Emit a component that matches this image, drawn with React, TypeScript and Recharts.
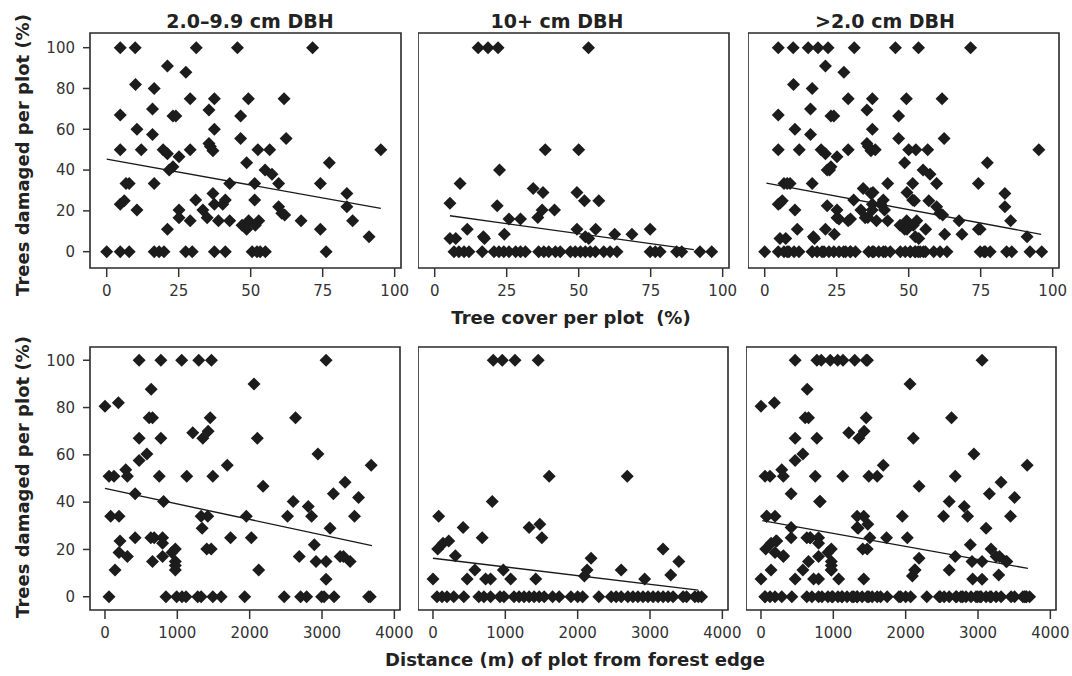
import React from 'react';
import { ScatterChart, Scatter, XAxis, YAxis, ReferenceLine, ReferenceArea } from 'recharts';

// [tree cover %, trees damaged %] — 2.0–9.9 cm DBH
const coverSmall: [number, number][] = [
  [4.7, 100], [9.9, 100], [31.1, 100], [45.4, 100], [71.5, 100],
  [21.1, 91], [27.5, 88], [10, 82], [16.5, 80],
  [29, 75], [37.4, 75], [49.2, 75], [61.6, 75], [15.9, 70],
  [4.7, 67], [23, 66.5], [24, 66.5], [35.5, 69.5], [46.5, 66.5],
  [10.5, 60], [37.4, 60], [15.9, 57.4], [46.5, 55.5], [62.3, 55.5],
  [35.5, 53], [36, 51.5],
  [4.7, 50], [12, 50], [19.6, 50], [29, 50], [36.9, 49.5], [52.5, 50], [56.6, 50], [95.2, 50],
  [21.1, 48], [25.1, 46.5], [48.6, 43.6], [77.3, 43.6], [23, 41.6], [21.7, 40], [55, 40], [57.4, 38],
  [6.7, 33.4], [7.8, 33.4], [16.5, 33.4], [42.7, 33.4], [51.4, 33.4], [59.7, 33.4], [74.2, 33.4],
  [36.9, 28.5], [83.4, 28.5],
  [6.1, 25], [30.9, 25.3], [41.2, 25.3], [51.4, 25.3],
  [4.7, 23.3], [37.4, 23.3], [40.3, 23.3], [59.7, 22], [83.4, 22],
  [10.5, 20.4], [25.1, 20.4], [33.4, 20.4], [60.8, 18.8], [61.8, 18],
  [25.1, 16.6], [34.9, 16.6],
  [29, 15.2], [38.8, 15.2], [42.7, 15.2], [49.3, 15.2], [52.8, 15.2], [67.5, 15.2], [85.4, 15.2],
  [47, 13], [51.6, 13], [21.1, 11], [48.6, 11], [74.2, 11], [91.1, 7.3],
  [0, 0], [4.7, 0], [7.8, 0], [16.5, 0], [18.2, 0], [19.9, 0], [27.4, 0], [29.7, 0],
  [37.4, 0], [41.2, 0], [50.5, 0], [52.2, 0], [53.3, 0], [55.1, 0], [76.2, 0],
];

// 10+ cm DBH
const coverBig: [number, number][] = [
  [15.1, 100], [18.5, 100], [22, 100], [53.4, 100],
  [38.4, 50], [50, 50], [22.5, 40], [8.8, 33.4], [34.2, 31], [37.6, 29], [49.4, 29],
  [52, 25], [57, 25], [5.3, 23.7], [21.7, 22.5], [37.3, 20.4], [41.6, 20.4], [35.8, 16.8],
  [25.8, 16], [29.8, 16], [11.3, 11], [49.4, 11], [55.9, 11], [74.8, 11],
  [24.2, 8.6], [62.5, 8.6], [68.5, 8.6], [16.9, 7.3], [52.3, 7.3],
  [5.3, 6.5], [7.3, 6.5], [17.3, 6.5], [53.5, 6.5],
  [6.7, 0], [8.4, 0], [10.2, 0], [11.9, 0], [16.5, 0], [20.6, 0], [22.3, 0], [24, 0],
  [25.8, 0], [28.1, 0], [29.8, 0], [31.5, 0], [36.1, 0], [37.9, 0], [39.6, 0], [41.9, 0],
  [43.6, 0], [47.1, 0], [48.8, 0], [50.6, 0], [52.3, 0], [54, 0], [55.8, 0], [58.7, 0],
  [60.9, 0], [63.3, 0], [74.8, 0], [76.6, 0], [78.3, 0], [84, 0], [85.8, 0], [92.1, 0], [96.2, 0],
];

// [distance m, trees damaged %] — 2.0–9.9 cm DBH
const distSmall: [number, number][] = [
  [472, 100], [773, 100], [1060, 100], [1296, 100], [1472, 100], [3056, 100],
  [2060, 90], [639, 87.7], [185, 82], [0, 80.6],
  [611, 75.7], [657, 75.7], [1454, 75.7], [2634, 75.7], [1426, 70], [1213, 69.3],
  [472, 67], [773, 67], [1352, 67], [2106, 67],
  [579, 60.4], [2944, 60.4], [472, 57.6], [1690, 55.6], [3680, 55.6], [287, 53.7],
  [56, 51], [125, 51], [310, 51], [750, 51], [1130, 51], [1491, 51],
  [3319, 48.4], [2185, 46.7], [417, 43.6], [3157, 43.6], [3505, 42], [810, 40.3], [2602, 40.3], [2810, 38.2],
  [79, 34], [194, 34], [1329, 34], [1421, 34], [1954, 34], [2523, 34], [2856, 34], [3449, 34],
  [1343, 29], [3111, 29],
  [417, 25], [634, 25], [680, 25], [796, 25], [1736, 25], [2023, 25],
  [208, 23.6], [796, 22.6], [2894, 22],
  [972, 20.2], [1407, 20.2], [1468, 20.2], [194, 18.7], [926, 18.7],
  [310, 17], [796, 17], [2685, 17], [3250, 17], [3296, 17],
  [657, 14.9], [972, 14.9], [2917, 14.9], [3056, 14.9], [3389, 14.9],
  [972, 13.2], [139, 11.3], [972, 11.3], [2125, 11.3], [3056, 7.4],
  [56, 0], [843, 0], [991, 0], [1065, 0], [1120, 0], [1282, 0], [1329, 0], [1491, 0], [1606, 0],
  [1931, 0], [2477, 0], [2704, 0], [2787, 0], [2995, 0], [3028, 0], [3167, 0], [3644, 0], [3667, 0],
];

// 10+ cm DBH
const distBig: [number, number][] = [
  [833, 100], [958, 100], [1134, 100], [1454, 100],
  [1606, 51], [2685, 51], [819, 40.3], [79, 34], [1477, 30.7], [417, 29.3], [1329, 29.3],
  [680, 25], [1505, 25], [65, 20.2], [139, 22.6], [218, 23.6], [3180, 20.2], [310, 17.3],
  [2185, 16.3], [3398, 14.9], [579, 11.3], [972, 11.3], [2130, 11.3], [2602, 11.3],
  [3287, 9.2], [2093, 8.8],
  [0, 7.5], [472, 7.5], [727, 7.5], [796, 7.5], [1074, 7.5], [1421, 7.5], [2926, 7.5],
  [56, 0], [125, 0], [194, 0], [287, 0], [426, 0], [634, 0], [704, 0], [796, 0], [926, 0],
  [981, 0], [1120, 0], [1190, 0], [1259, 0], [1329, 0], [1398, 0], [1468, 0], [1537, 0],
  [1653, 0], [1745, 0], [1907, 0], [2000, 0], [2069, 0], [2292, 0], [2463, 0], [2532, 0],
  [2602, 0], [2694, 0], [2764, 0], [2833, 0], [2903, 0], [2972, 0], [3042, 0], [3111, 0],
  [3181, 0], [3250, 0], [3319, 0], [3458, 0], [3505, 0], [3620, 0], [3667, 0], [3713, 0],
];

// fitted regression lines, end points
const coverSmallFit: [number, number][] = [[0, 45.4], [95.2, 21.2]];
const coverBigFit: [number, number][] = [[5.3, 17.6], [90, 1]];
const coverAllFit: [number, number][] = [[0.6, 33.6], [96, 8.5]];
const distSmallFit: [number, number][] = [[0, 45.8], [3690, 21.6]];
const distBigFit: [number, number][] = [[0, 16.3], [3667, 2.8]];
const distAllFit: [number, number][] = [[18, 32.2], [3690, 12]];

const coverTicks = [0, 25, 50, 75, 100];
const distTicks = [0, 1000, 2000, 3000, 4000];
const damageTicks = [0, 20, 40, 60, 80, 100];

const titles = ['2.0–9.9 cm DBH', '10+ cm DBH', '>2.0 cm DBH'];

const FONT = "'DejaVu Sans', Verdana, sans-serif";
const INK = '#1c1c1c';

const Diamond = (props: any) => {
  const { cx, cy } = props;
  if (cx == null || cy == null) return null;
  const r = 6.5;
  return <path d={`M${cx},${cy - r}L${cx + r},${cy}L${cx},${cy + r}L${cx - r},${cy}Z`} fill={INK} />;
};

const toPoints = (rows: [number, number][]) => rows.map(([x, y]) => ({ x, y }));

interface PanelProps {
  rows: [number, number][];
  fit: [number, number][];
  left: number;
  top: number;
  plotW: number;
  plotH: number;
  xDomain: [number, number];
  yDomain: [number, number];
  xTicks: number[];
  showY: boolean;
}

function Panel({ rows, fit, left, top, plotW, plotH, xDomain, yDomain, xTicks, showY }: PanelProps) {
  const yW = showY ? 50 : 0;
  const padR = 26;
  const tickStyle = { fill: '#333', fontSize: 15, fontFamily: FONT };
  return (
    <div style={{ position: 'absolute', left: left - yW, top: top - 1 }}>
      <ScatterChart width={plotW + yW + padR} height={plotH + 40} margin={{ top: 1, right: padR, left: 0, bottom: 0 }}>
        <XAxis
          type="number"
          dataKey="x"
          domain={xDomain}
          ticks={xTicks}
          allowDataOverflow
          interval={0}
          axisLine={false}
          tickLine={{ stroke: '#333', strokeWidth: 1.5 }}
          tickSize={9}
          tickMargin={8}
          height={39}
          tick={tickStyle}
        />
        <YAxis
          type="number"
          dataKey="y"
          domain={yDomain}
          ticks={damageTicks}
          allowDataOverflow
          interval={0}
          hide={!showY}
          width={yW}
          axisLine={false}
          tickLine={{ stroke: '#333', strokeWidth: 1.5 }}
          tickSize={7}
          tickMargin={8}
          tick={tickStyle}
        />
        <ReferenceArea
          x1={xDomain[0]}
          x2={xDomain[1]}
          y1={yDomain[0]}
          y2={yDomain[1]}
          ifOverflow="visible"
          fill="none"
          fillOpacity={0}
          stroke="#2a2a2a"
          strokeWidth={1.6}
        />
        <Scatter data={toPoints(rows)} shape={<Diamond />} isAnimationActive={false} />
        <ReferenceLine
          segment={[{ x: fit[0][0], y: fit[0][1] }, { x: fit[1][0], y: fit[1][1] }]}
          stroke="#1a1a1a"
          strokeWidth={1.4}
          ifOverflow="visible"
        />
      </ScatterChart>
    </div>
  );
}

export default function App() {
  const coverAll = [...coverSmall, ...coverBig];
  const distAll = [...distSmall, ...distBig];
  const topRow = { top: 33, plotW: 311, plotH: 235, xDomain: [-5.8, 102.2] as [number, number], yDomain: [-8, 107.2] as [number, number], xTicks: coverTicks };
  const botRow = { top: 347, plotW: 310, plotH: 263, xDomain: [-207, 4078] as [number, number], yDomain: [-5.6, 105.6] as [number, number], xTicks: distTicks };
  const titleStyle: React.CSSProperties = { fontFamily: FONT, fontWeight: 'bold', fontSize: 19, fill: '#222', whiteSpace: 'pre' };
  const labelStyle: React.CSSProperties = { ...titleStyle, fontSize: 18 };
  return (
    <div style={{ position: 'absolute', left: 0, top: 0, width: 1072, height: 676, background: '#fff', overflow: 'hidden' }}>
      <Panel rows={coverSmall} fit={coverSmallFit} left={90} showY {...topRow} />
      <Panel rows={coverBig} fit={coverBigFit} left={418} showY={false} {...topRow} />
      <Panel rows={coverAll} fit={coverAllFit} left={748} showY={false} {...topRow} />
      <Panel rows={distSmall} fit={distSmallFit} left={90} showY {...botRow} />
      <Panel rows={distBig} fit={distBigFit} left={418} showY={false} {...botRow} />
      <Panel rows={distAll} fit={distAllFit} left={746} showY={false} {...botRow} />
      <svg width={1072} height={676} style={{ position: 'absolute', left: 0, top: 0, pointerEvents: 'none' }}>
        <text x={250} y={28} textAnchor="middle" style={titleStyle}>{titles[0]}</text>
        <text x={557} y={28} textAnchor="middle" style={titleStyle}>{titles[1]}</text>
        <text x={885} y={28} textAnchor="middle" style={titleStyle}>{titles[2]}</text>
        <text x={571} y={324} textAnchor="middle" style={labelStyle}>Tree cover per plot  (%)</text>
        <text x={575} y={666} textAnchor="middle" style={labelStyle}>Distance (m) of plot from forest edge</text>
        <text transform="translate(29,155) rotate(-90)" textAnchor="middle" style={labelStyle}>Trees damaged per plot (%)</text>
        <text transform="translate(29,477) rotate(-90)" textAnchor="middle" style={labelStyle}>Trees damaged per plot (%)</text>
      </svg>
    </div>
  );
}
